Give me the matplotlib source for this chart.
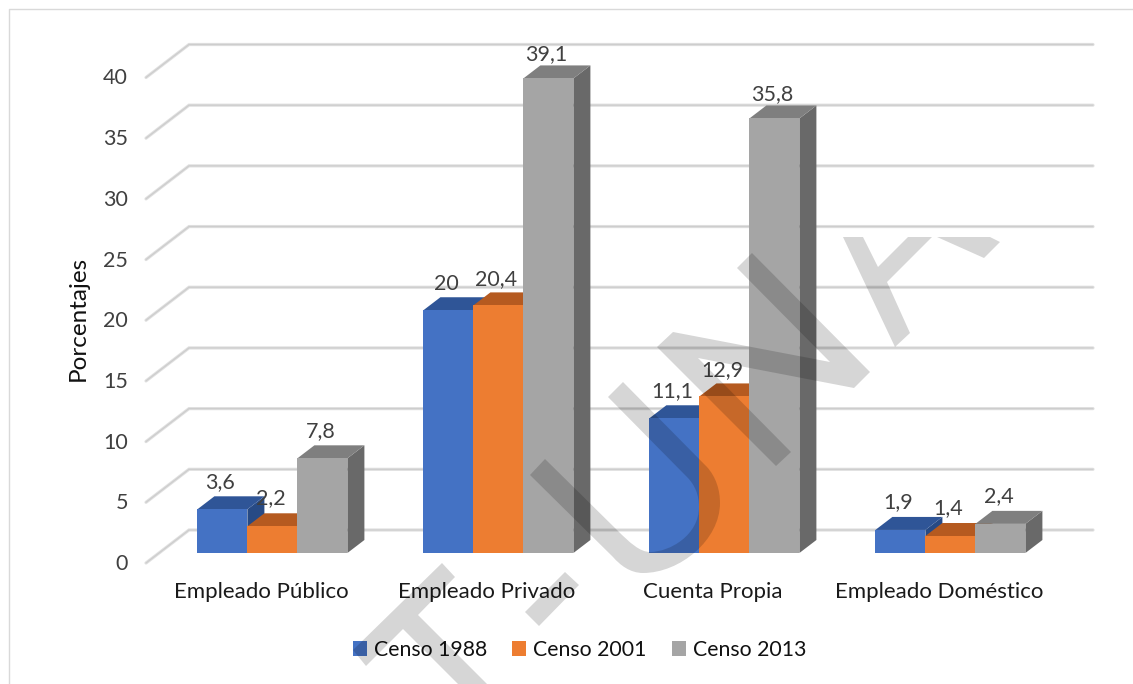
import matplotlib
matplotlib.use("Agg")
import matplotlib.pyplot as plt
from matplotlib.patches import Polygon, PathPatch
from matplotlib.path import Path
from matplotlib.lines import Line2D
from matplotlib.transforms import Affine2D, ScaledTranslation

categories = ["Empleado Público", "Empleado Privado", "Cuenta Propia", "Empleado Doméstico"]
series_names = ["Censo 1988", "Censo 2001", "Censo 2013"]
censo_1988 = [3.6, 20, 11.1, 1.9]
censo_2001 = [2.2, 20.4, 12.9, 1.4]
censo_2013 = [7.8, 39.1, 35.8, 2.4]
y_ticks = [0, 5, 10, 15, 20, 25, 30, 35, 40]
y_title = "Porcentajes"

FW, FH = 1133, 684
FS = 15.5
plt.rcParams['font.family'] = ['Lato', 'DejaVu Sans']
fig = plt.figure(figsize=(FW / 100, FH / 100), dpi=100, facecolor='white')
L, R, T, B = 189, 1093, 44.5, 530
ax = fig.add_axes([L / FW, 1 - B / FH, (R - L) / FW, (B - T) / FH])
ax.set_xlim(-0.5, 3.5)
ax.set_ylim(0, 40)
ax.patch.set_alpha(0)
for s in ax.spines.values():
    s.set_visible(False)

PXX = (R - L) / 4
PXY = (B - T) / 40
bw = 50 / PXX
fx, fy = -29.6 / PXX, -23 / PXY
dx, dy = 17 / PXX, 13 / PXY
fdx, fdy = -43 / PXX, -33 / PXY

# walls and floor lines
for v in y_ticks:
    for col, lw, z in (("#E0E0E0", 2.3, 1), ("#CDCDCD", 0.9, 1.1)):
        ax.plot([-0.5 + fdx, -0.5, 3.5], [v + fdy, v, v], color=col, lw=lw,
                clip_on=False, zorder=z, solid_capstyle='round', solid_joinstyle='miter')

styles = [("#4472C4", "#2F5597", "#274A85"),
          ("#ED7D31", "#B55A20", "#9E4F1C"),
          ("#A5A5A5", "#7F7F7F", "#696969")]
all_series = [censo_1988, censo_2001, censo_2013]
handles = []
z = 3
for i in range(len(categories)):
    for j, vals in enumerate(all_series):
        v = vals[i]
        c_front, c_top, c_side = styles[j]
        x0 = i + fx + (j - 1.5) * bw
        x1 = x0 + bw
        base = fy
        top = fy + v
        ax.add_patch(Polygon([(x1, base), (x1 + dx, base + dy), (x1 + dx, top + dy), (x1, top)],
                             closed=True, fc=c_side, ec='none', clip_on=False, zorder=z))
        ax.add_patch(Polygon([(x0, top), (x0 + dx, top + dy), (x1 + dx, top + dy), (x1, top)],
                             closed=True, fc=c_top, ec='none', clip_on=False, zorder=z))
        bar = ax.bar(x0 + bw / 2, v, width=bw, bottom=base, color=c_front, clip_on=False, zorder=z + 0.1,
                     label=series_names[j] if i == 0 else None)
        if i == 0:
            handles.append(bar)
        z += 1
        ax.annotate(f"{v:g}".replace(".", ","), (x0 + bw / 2 - 2 / PXX, top), xytext=(0, 28 - 0.1 * v),
                    textcoords='offset pixels', ha='center', va='center',
                    fontsize=FS, color="#404040", zorder=60, annotation_clip=False)

# ticks
ax.set_yticks(y_ticks)
ax.set_yticklabels([str(t) for t in y_ticks], fontsize=FS, color="#404040")
ax.tick_params(axis='y', length=0, pad=13)
off_y = ScaledTranslation(-43 / 100, -32 / 100, fig.dpi_scale_trans)
for lab in ax.get_yticklabels():
    lab.set_transform(lab.get_transform() + off_y)
    lab.set_zorder(60)
ax.set_xticks(range(len(categories)))
ax.set_xticklabels(categories, fontsize=16, color="#1A1A1A")
ax.tick_params(axis='x', length=0, pad=37.5)
off_x = ScaledTranslation(-41 / 100, 0, fig.dpi_scale_trans)
for lab in ax.get_xticklabels():
    lab.set_transform(lab.get_transform() + off_x)

fig.text(78 / FW, 1 - 318 / FH, y_title, rotation=90, ha='center', va='center',
         fontsize=17.5, color="#111111")

leg = fig.legend(handles=handles, labels=series_names, loc='center',
                 bbox_to_anchor=(579.5 / FW, 1 - 650 / FH), ncol=3, frameon=False,
                 fontsize=15.3, handlelength=0.65, handleheight=0.65, handletextpad=0.32,
                 columnspacing=1.2, labelcolor="#111111")

# chart border (top and left only show in the reference crop)
to_px = Affine2D().scale(1 / FW, -1 / FH).translate(0, 1) + fig.transFigure
fig.add_artist(Line2D([1133, 8.5, 8.5], [8.5, 8.5, 684], transform=to_px, color="#D9D9D9", lw=1))

# diagonal watermark overlay
wm_polys = [
    [(442, 563), (455, 577), (418, 615), (487, 684), (458, 684), (403, 629), (366, 666), (353, 650)],
    [(565, 572), (579, 585), (539, 626), (525, 612)],
    [(752, 253), (870, 372), (854, 388), (698, 358), (791, 452), (776, 466), (657, 347), (673, 332), (830, 362), (737, 268)],
    [(843, 237), (863, 237), (878, 267), (908, 237), (932, 237), (887, 282), (910, 333), (895, 347)],
    [(937, 237), (990, 237), (1000, 242), (984, 258)],
]
for p in wm_polys:
    fig.add_artist(Polygon(p, closed=True, transform=to_px, fc='black', ec='none', alpha=0.16, zorder=40))
u_v = [(545, 459), (617, 530), (630, 543), (640, 552), (650, 552), (670, 552), (699, 535), (699, 507),
       (699, 495), (695, 485), (687, 477), (608, 397), (623, 382), (707, 467), (716, 477), (720, 490),
       (720, 503), (720, 540), (680, 573), (643, 573), (630, 573), (620, 565), (613, 557), (530, 475), (545, 459)]
u_c = [Path.MOVETO, Path.LINETO] + [Path.CURVE4] * 9 + [Path.LINETO] * 3 + [Path.CURVE4] * 9 + [Path.LINETO] * 1 + [Path.CLOSEPOLY]
fig.add_artist(PathPatch(Path(u_v, u_c), transform=to_px, fc='black', ec='none', alpha=0.16, zorder=40))

fig.savefig("out.png", dpi=100)
